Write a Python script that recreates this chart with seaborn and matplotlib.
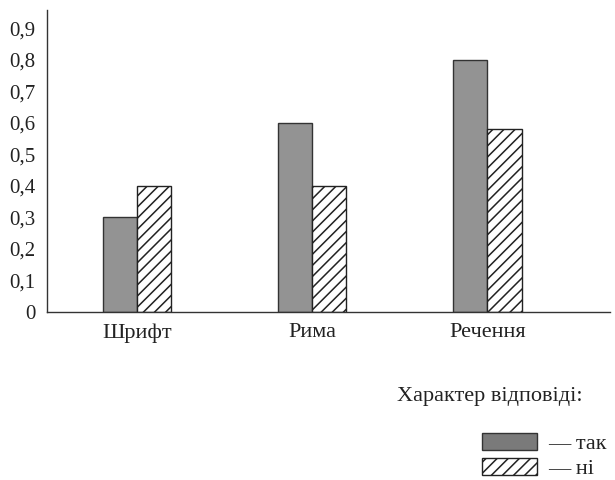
import pandas as pd
import matplotlib
matplotlib.use('Agg')
import matplotlib.pyplot as plt
from matplotlib.patches import Patch
from matplotlib.ticker import FuncFormatter
import seaborn as sns

# дані
categories = ['Шрифт', 'Рима', 'Речення']
answers = ['так', 'ні']
values_yes = [0.30, 0.60, 0.80]
values_no = [0.40, 0.40, 0.58]
y_ticks = [0, 0.1, 0.2, 0.3, 0.4, 0.5, 0.6, 0.7, 0.8, 0.9]

df = pd.DataFrame({
    'категорія': categories * 2,
    'відповідь': [answers[0]] * len(categories) + [answers[1]] * len(categories),
    'частка': values_yes + values_no,
})

sns.set_theme(style='white')
plt.rcParams['font.family'] = ['Liberation Serif', 'DejaVu Serif']
plt.rcParams['hatch.linewidth'] = 1.1

grey = '#939393'
edge = '#333333'
txt = '#222222'

fig = plt.figure(figsize=(6.15, 4.8), dpi=100)
ax = fig.add_axes([0.0764, 0.35, 0.9156, 0.629])

sns.barplot(data=df, x='категорія', y='частка', hue='відповідь',
            palette={'так': grey, 'ні': 'white'}, width=0.39,
            edgecolor=edge, linewidth=1.0, legend=False, ax=ax)

# штрихування для "ні"
for bar in ax.containers[1]:
    bar.set_hatch('///')
    bar.set_edgecolor(txt)

ax.set_xlim(-0.514, 2.70)
ax.set_ylim(0, 0.957)
ax.set_yticks(y_ticks)
ax.yaxis.set_major_formatter(FuncFormatter(
    lambda v, p: '0' if abs(v) < 1e-9 else f'{v:.1f}'.replace('.', ',')))
ax.set_xlabel('')
ax.set_ylabel('')
ax.tick_params(axis='both', length=0, colors=txt)
ax.tick_params(axis='y', pad=8, labelsize=15)
ax.tick_params(axis='x', pad=8, labelsize=16)
sns.despine(ax=ax)
for side in ['left', 'bottom']:
    ax.spines[side].set_color('#333333')
    ax.spines[side].set_linewidth(1.0)

fig.text(397 / 615, 1 - 397 / 480, 'Характер відповіді:', fontsize=16,
         ha='left', va='center', color=txt)

handles = [Patch(facecolor='#7a7a7a', edgecolor=edge, linewidth=1.0),
           Patch(facecolor='white', edgecolor=txt, hatch='///', linewidth=1.0)]
fig.legend(handles, ['— так', '— ні'], loc='upper left',
           bbox_to_anchor=(482 / 615, 1 - 433 / 480), frameon=False,
           borderpad=0, borderaxespad=0, fontsize=16,
           handlelength=2.48, handleheight=0.77, handletextpad=0.5,
           labelspacing=0.2, labelcolor=txt)

fig.savefig('out.png', dpi=100)
